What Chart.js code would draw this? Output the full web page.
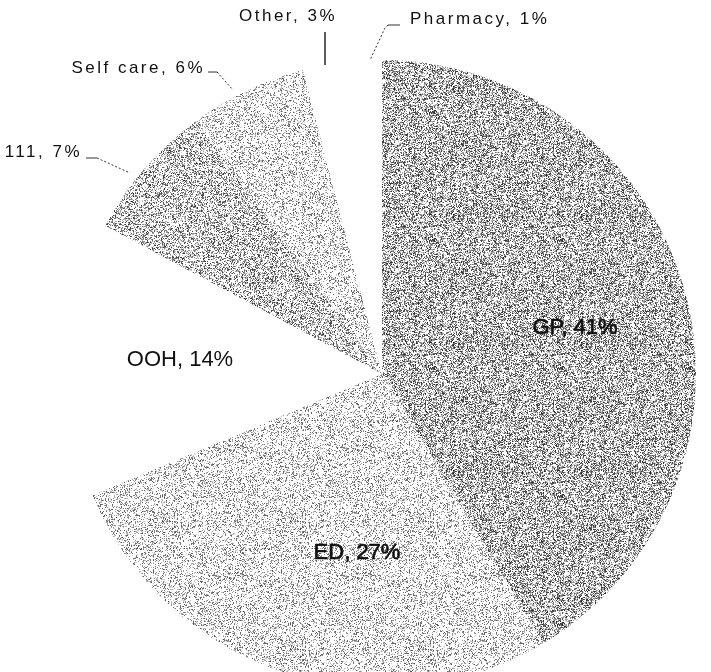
<!DOCTYPE html>
<html>
<head>
<meta charset="utf-8">
<script src="https://cdn.jsdelivr.net/npm/chart.js@4.4.1/dist/chart.umd.min.js"></script>
<style>
  html, body { margin: 0; padding: 0; background: #fff; overflow: hidden; }
  #wrap { width: 711px; height: 700px; }
</style>
</head>
<body>
<div id="wrap"><canvas id="pieChart"></canvas></div>
<script>
// Where patients went (share of contacts, %)
const categories = ['GP', 'ED', 'OOH', '111', 'Self care', 'Other', 'Pharmacy'];
const shares = [41, 27, 14, 7, 6, 3, 1];

// stipple density / darkest dot per slice, 0 = left blank like the scan
const stippleDensity = [0.55, 0.3, 0, 0.45, 0.3, 0, 0];
const stippleDark = [40, 80, 0, 50, 80, 0, 0];

// label text offsets from the pie centre (px)
const insideLabels = { GP: [193, -46], ED: [-25, 179], OOH: [-202, -14] };
const callouts = [
    { name: '111', text: [-300, -222], align: 'right', leader: [[-296, -216], [-285, -216], [-252, -201]] },
    { name: 'Self care', text: [-177, -306], align: 'right', leader: [[-174, -302], [-165, -302], [-149, -284]] },
    { name: 'Other', text: [-143, -358], align: 'left', stem: [[-57, -342], [-57, -309]] },
    { name: 'Pharmacy', text: [28, -355], align: 'left', leader: [[18, -349], [6, -349], [3, -346], [-12, -314]] }
];

document.addEventListener('DOMContentLoaded', () => {
    const pieChartEl = document.getElementById('pieChart');
    const mainCtx = pieChartEl.getContext('2d');

    // grainy dot texture, seeded so it looks the same every run
    function stipple(density, dark, seed) {
        const size = 128;
        const c = document.createElement('canvas');
        c.width = c.height = size;
        const g = c.getContext('2d');
        g.fillStyle = '#fff';
        g.fillRect(0, 0, size, size);
        if (density > 0) {
            let s = seed;
            const rnd = () => { s ^= s << 13; s ^= s >>> 17; s ^= s << 5; return (s >>> 0) / 4294967296; };
            const img = g.getImageData(0, 0, size, size);
            for (let i = 0; i < size * size; i++) {
                if (rnd() < density) {
                    const v = Math.floor(dark + rnd() * (215 - dark));
                    img.data[i * 4] = img.data[i * 4 + 1] = img.data[i * 4 + 2] = v;
                }
            }
            g.putImageData(img, 0, 0);
        }
        return mainCtx.createPattern(c, 'repeat');
    }

    const fills = stippleDensity.map((d, i) => stipple(d, stippleDark[i], 1234567 + i * 7919));

    const labelPlugin = {
        id: 'sliceLabels',
        afterDraw(chart) {
            const ctx = chart.ctx;
            const arc = chart.getDatasetMeta(0).data[0];
            const cx = arc.x, cy = arc.y;
            const total = shares.reduce((a, b) => a + b, 0);
            const pct = name => Math.round(shares[categories.indexOf(name)] / total * 100) + '%';
            ctx.save();
            ctx.fillStyle = '#111';
            ctx.textBaseline = 'middle';

            ctx.font = '22px "Liberation Sans", Arial, sans-serif';
            ctx.textAlign = 'center';
            ctx.strokeStyle = '#111';
            ctx.lineWidth = 0.7;
            Object.keys(insideLabels).forEach(name => {
                const [dx, dy] = insideLabels[name];
                const txt = name + ', ' + pct(name);
                ctx.fillText(txt, cx + dx, cy + dy);
                if (name !== 'OOH') ctx.strokeText(txt, cx + dx, cy + dy);
            });

            ctx.font = '17px "Liberation Sans", Arial, sans-serif';
            ctx.letterSpacing = '2.5px';
            ctx.strokeStyle = '#333';
            callouts.forEach(co => {
                ctx.textAlign = co.align;
                ctx.fillText(co.name + ', ' + pct(co.name), cx + co.text[0], cy + co.text[1]);
                if (co.leader) {
                    ctx.lineWidth = 1;
                    // short solid tick, then dotted run to the slice
                    ctx.setLineDash([]);
                    ctx.beginPath();
                    ctx.moveTo(cx + co.leader[0][0], cy + co.leader[0][1]);
                    ctx.lineTo(cx + co.leader[1][0], cy + co.leader[1][1]);
                    ctx.stroke();
                    ctx.setLineDash([2, 2]);
                    ctx.beginPath();
                    ctx.moveTo(cx + co.leader[1][0], cy + co.leader[1][1]);
                    for (let k = 2; k < co.leader.length; k++) {
                        ctx.lineTo(cx + co.leader[k][0], cy + co.leader[k][1]);
                    }
                    ctx.stroke();
                }
                if (co.stem) {
                    ctx.setLineDash([]);
                    ctx.lineWidth = 1.6;
                    ctx.beginPath();
                    ctx.moveTo(cx + co.stem[0][0], cy + co.stem[0][1]);
                    ctx.lineTo(cx + co.stem[1][0], cy + co.stem[1][1]);
                    ctx.stroke();
                }
            });
            ctx.restore();
        }
    };

    new Chart(pieChartEl, {
        type: 'pie',
        data: {
            labels: categories,
            datasets: [{
                data: shares,
                backgroundColor: fills,
                borderWidth: 0
            }]
        },
        options: {
            responsive: true,
            maintainAspectRatio: false,
            animation: false,
            layout: { padding: { left: 64, right: 11, top: 60, bottom: 12 } },
            plugins: {
                legend: { display: false },
                tooltip: { enabled: false }
            }
        },
        plugins: [labelPlugin]
    });
});
</script>
</body>
</html>
